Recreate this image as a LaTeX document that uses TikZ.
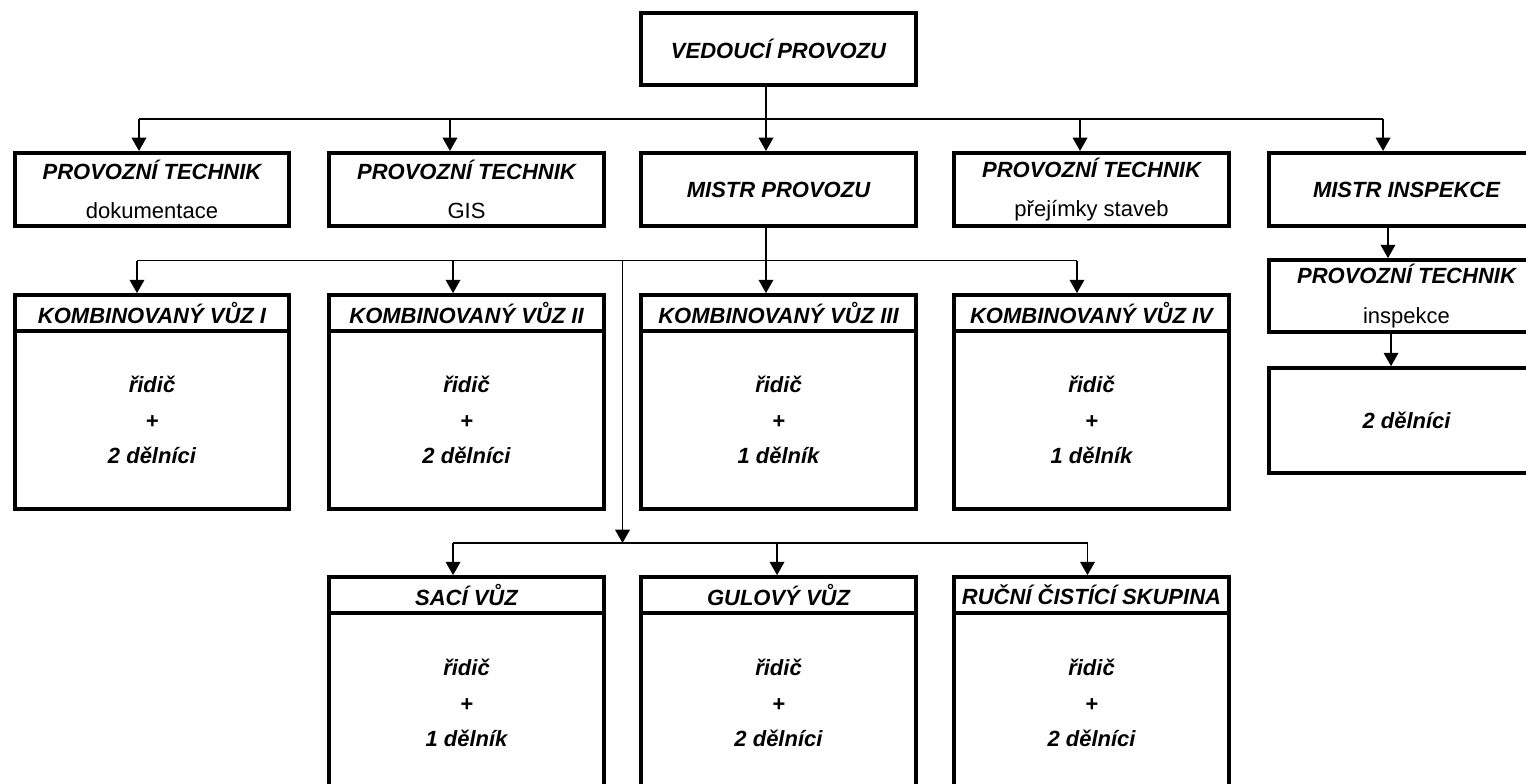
\documentclass[tikz,border=0pt]{standalone}
\usepackage{fontspec}
\setmainfont{Liberation Sans}
\usetikzlibrary{arrows.meta,calc}

\begin{document}
\begin{tikzpicture}[x=0.75pt,y=-0.75pt,
box/.style = {% framed boxes
    draw, line width=2.8pt, fill=white, inner sep=0pt,
    minimum width=206pt, align=center,
    font=\fontsize{16.5}{26.5}\selectfont\bfseries\itshape,
             },
head/.style = {box, minimum height=27pt},
body/.style = {box, minimum height=133.5pt},
link/.style = {line width=1.1pt},
arr/.style  = {link, -{Triangle[width=11pt,length=10pt]}},
                    ]
  \useasboundingbox (0,0) rectangle (1526,783);
  \clip (0,0) rectangle (1526,783);

  % top rows
  \node[box, minimum height=54pt] (vp) at (778.5,49) {VEDOUCÍ PROVOZU};
  \node[box, minimum height=55pt] (pt1) at (152,189.5)
      {PROVOZNÍ TECHNIK\\[3pt]{\mdseries\upshape dokumentace}};
  \node[box, minimum height=55pt] (pt2) at (466.5,189.5)
      {PROVOZNÍ TECHNIK\\[3pt]{\mdseries\upshape GIS}};
  \node[box, minimum height=55pt] (mp) at (778.5,189.5) {MISTR PROVOZU};
  \node[box, minimum height=55pt] (pt3) at (1091.5,189.5)
      {PROVOZNÍ TECHNIK\\[3pt]{\mdseries\upshape přejímky staveb}};
  \node[box, minimum height=55pt] (mi) at (1406.5,189.5) {MISTR INSPEKCE};
  \node[box, minimum height=54pt] (pti) at (1406.5,296)
      {PROVOZNÍ TECHNIK\\[3pt]{\mdseries\upshape inspekce}};
  \node[box, minimum height=78.75pt] (di) at (1406.5,420.5) {2 dělníci};

  % vehicles
  \foreach \n/\x/\t/\c in {k1/152/I/2 dělníci, k2/466.5/II/2 dělníci,
      k3/778.5/III/1 dělník, k4/1091.5/IV/1 dělník} {
    \node[head] (h\n) at (\x,313) {KOMBINOVANÝ VŮZ \t};
    \node[body] (b\n) at (\x,420) {řidič\\+\\\c};
  }
  \foreach \n/\x/\t/\c in {s1/466.5/SACÍ VŮZ/1 dělník,
      s2/778.5/GULOVÝ VŮZ/2 dělníci, s3/1091.5/RUČNÍ ČISTÍCÍ SKUPINA/2 dělníci} {
    \node[head] (h\n) at (\x,595) {\t};
    \node[body, minimum height=135pt] (b\n) at (\x,703) {řidič\\+\\\c};
  }

  % connectors
  \foreach \n/\s in {pt1/-9.75, pt2/-12.4, mp/-9.4, pt3/-8.6, mi/-17.6,
      hk1/-11.25, hk2/-10.1, hk3/-9.4, hk4/-10.9,
      hs1/-10.1, hs2/-1.1, hs3/-3}
    \coordinate (\n-in) at ([xshift=\s pt]\n.north);

  \coordinate (bus1) at ($(vp.south)!0.5!(mp.north)$);
  \coordinate (bus2) at ($(mp.south)!0.5!(hk3.north)$);
  \coordinate (bus3) at ($(bk2.south)!0.5!(hs2.north)$);
  \coordinate (gap)  at ($(bk2.east)!0.5!(bk3.west)$);

  \draw[arr] (vp.south -| mp-in) -- (mp-in);
  \draw[link] (bus1 -| pt1-in) -- (bus1 -| mi-in);
  \foreach \n in {pt1,pt2,pt3,mi}
    \draw[arr] (bus1 -| \n-in) -- (\n-in);

  \draw[arr] (mp.south -| hk3-in) -- (hk3-in);
  \draw[link] (bus2 -| hk1-in) -- (bus2 -| hk4-in);
  \foreach \n in {hk1,hk2,hk4}
    \draw[arr] (bus2 -| \n-in) -- (\n-in);

  \draw[arr] (bus2 -| gap) -- (bus3 -| gap);
  \draw[link] (bus3 -| hs1-in) -- (bus3 -| hs3-in);
  \foreach \n in {hs1,hs2,hs3}
    \draw[arr] (bus3 -| \n-in) -- (\n-in);

  \draw[arr] ([xshift=-13.9pt]mi.south) -- ([xshift=-13.9pt]pti.north);
  \draw[arr] ([xshift=-11.6pt]pti.south) -- ([xshift=-11.6pt]di.north);

\end{tikzpicture}
\end{document}
